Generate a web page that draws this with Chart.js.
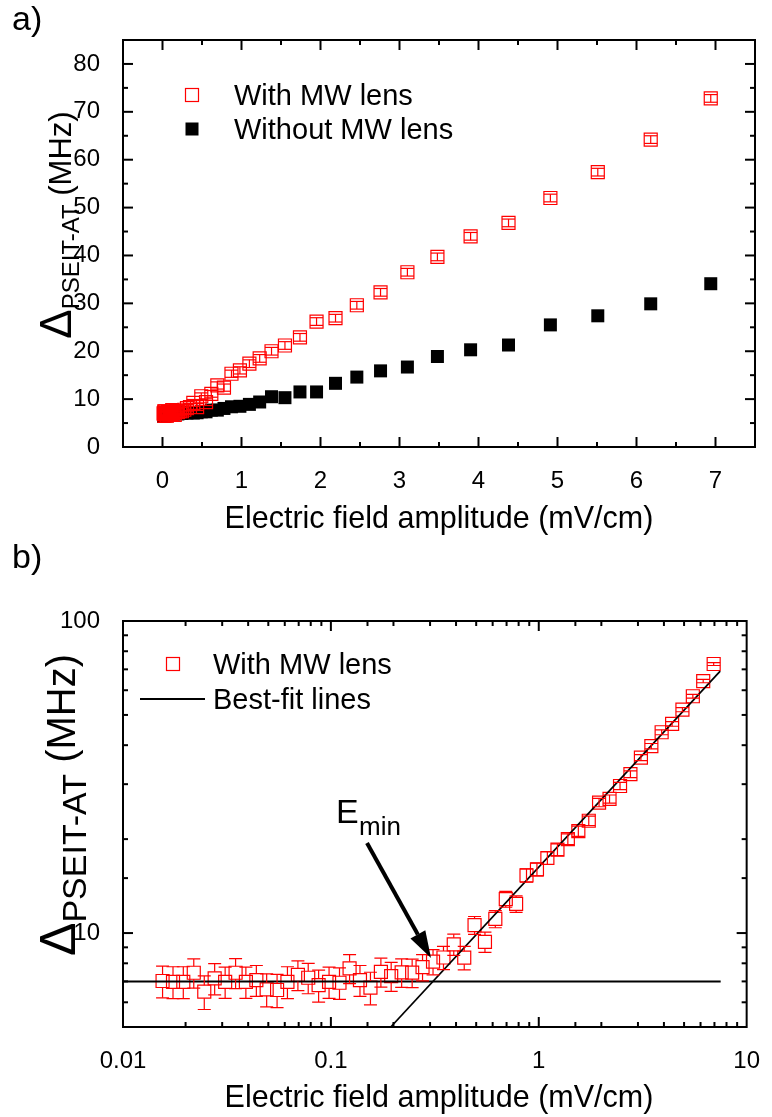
<!DOCTYPE html>
<html>
<head>
<meta charset="utf-8">
<script src="https://cdn.jsdelivr.net/npm/chart.js@4.4.1/dist/chart.umd.min.js"></script>
<style>
  body { margin: 0; background: #fff; }
  .panel { position: absolute; left: 0; }
</style>
</head>
<body>
<div class="panel" style="top:0"><canvas id="chartA" width="772" height="538"></canvas></div>
<div class="panel" style="top:538px"><canvas id="chartB" width="772" height="579"></canvas></div>

<script>
// field amplitude (mV/cm), same for both series
const fieldAmp = [0.0155, 0.0174, 0.0195, 0.0219, 0.0246, 0.0276, 0.031, 0.0348, 0.039, 0.0438,
    0.0491, 0.0551, 0.0618, 0.0694, 0.0778, 0.0873, 0.098, 0.11, 0.123, 0.138,
    0.155, 0.174, 0.195, 0.219, 0.246, 0.276, 0.31, 0.348, 0.39, 0.438,
    0.491, 0.551, 0.618, 0.694, 0.778, 0.873, 0.98, 1.1, 1.23, 1.38,
    1.55, 1.74, 1.95, 2.19, 2.46, 2.76, 3.1, 3.48, 3.9, 4.38,
    4.91, 5.51, 6.18, 6.94];

// splitting (MHz) with MW lens
const withLens = [7.02, 6.98, 6.98, 7.46, 6.49, 7.16, 6.98, 7.46, 6.98, 7.07,
    6.6, 6.57, 6.98, 7.34, 7.19, 6.81, 6.98, 6.93, 7.71, 7.07,
    6.69, 7.51, 7.28, 7.48, 7.47, 7.78, 8.1, 8.35, 9.2, 8.34,
    10.6, 9.37, 11.1, 12.85, 12.4, 15.3, 16.0, 17.4, 18.5, 20.0,
    21.2, 22.9, 26.2, 26.9, 29.6, 32.3, 36.5, 39.7, 44.0, 46.8,
    52.0, 57.4, 64.2, 72.8];

const withLensErr = [0.82, 0.82, 0.82, 0.8, 0.8, 0.82, 0.8, 0.82, 0.8, 0.8,
    0.8, 0.8, 0.82, 0.8, 0.8, 0.8, 0.8, 0.8, 0.82, 0.8,
    0.8, 0.8, 0.78, 0.78, 0.78, 0.75, 0.75, 0.72, 0.72, 0.72,
    0.7, 0.7, 0.7, 0.75, 0.75, 0.75, 0.75, 0.8, 0.8, 0.8,
    0.8, 0.8, 0.8, 0.8, 0.8, 0.8, 0.8, 0.8, 0.8, 0.8,
    0.8, 0.8, 0.8, 0.8];

// splitting (MHz) without MW lens
const withoutLens = [6.4, 6.6, 6.5, 6.7, 6.5, 6.6, 6.8, 6.6, 6.7, 6.9,
    6.7, 6.8, 6.6, 6.9, 6.8, 7.0, 6.9, 6.8, 7.0, 6.9,
    7.1, 7.0, 6.9, 7.1, 7.0, 7.2, 7.1, 7.2, 7.1, 7.15,
    7.35, 7.35, 7.7, 7.7, 8.05, 8.4, 8.5, 8.9, 9.4, 10.5,
    10.3, 11.5, 11.5, 13.3, 14.6, 15.9, 16.7, 18.9, 20.3, 21.3,
    25.5, 27.4, 29.9, 34.1];

// best-fit lines (end points)
const flatFitX = [0.01, 7.5];
const flatFitY = [7.0, 7.0];
const slopeFitX = [0.194, 7.46];
const slopeFitY = [5.0, 69.1];

// tick labels
const xTicksA = [0, 1, 2, 3, 4, 5, 6, 7];
const yTicksA = [0, 10, 20, 30, 40, 50, 60, 70, 80];
const xTicksB = [0.01, 0.1, 1, 10];
const yTicksB = [10, 100];

const FONT = '"Liberation Sans", Arial, Helvetica, sans-serif';
const RED = 'rgb(255,0,0)';
const MARK = 6.5; // half side of the square markers

const pts = (xs, ys) => xs.map((x, i) => ({ x: x, y: ys[i] }));
const isIn = (arr, v) => arr.some(a => Math.abs(a - v) < 1e-9 * Math.max(1, Math.abs(a)));

function line(ctx, x1, y1, x2, y2) {
    ctx.beginPath();
    ctx.moveTo(x1, y1);
    ctx.lineTo(x2, y2);
    ctx.stroke();
}

// frame with inward ticks on all four sides
const framePlugin = {
    id: 'frame',
    afterDraw(chart) {
        const { ctx, chartArea: a, scales } = chart;
        ctx.save();
        ctx.strokeStyle = '#000';
        ctx.lineWidth = 2;
        ctx.strokeRect(a.left, a.top, a.right - a.left, a.bottom - a.top);
        scales.x.ticks.forEach(t => {
            const px = scales.x.getPixelForValue(t.value);
            if (px < a.left + 2 || px > a.right - 2) return;
            const len = t.label !== '' ? 10 : 5;
            line(ctx, px, a.bottom, px, a.bottom - len);
            line(ctx, px, a.top, px, a.top + len);
        });
        scales.y.ticks.forEach(t => {
            const py = scales.y.getPixelForValue(t.value);
            if (py < a.top + 2 || py > a.bottom - 2) return;
            const len = t.label !== '' ? 10 : 5;
            line(ctx, a.left, py, a.left + len, py);
            line(ctx, a.right, py, a.right - len, py);
        });
        ctx.restore();
    }
};

// vertical error bars, drawn from marker edge to cap
const errorBarPlugin = {
    id: 'errbars',
    afterDatasetsDraw(chart) {
        const { ctx, chartArea: a, scales } = chart;
        ctx.save();
        ctx.beginPath();
        ctx.rect(a.left, a.top, a.right - a.left, a.bottom - a.top);
        ctx.clip();
        chart.data.datasets.forEach((ds, i) => {
            if (!ds.errors) return;
            const meta = chart.getDatasetMeta(i);
            ctx.strokeStyle = ds.borderColor;
            ctx.lineWidth = 1.2;
            meta.data.forEach((p, j) => {
                const v = ds.data[j].y, e = ds.errors[j];
                const yT = scales.y.getPixelForValue(v + e);
                const yB = scales.y.getPixelForValue(v - e);
                const w = MARK;
                line(ctx, p.x - w, yT, p.x + w, yT);
                line(ctx, p.x - w, yB, p.x + w, yB);
                if (p.y - yT > MARK) {
                    line(ctx, p.x, yT, p.x, p.y - MARK);
                    line(ctx, p.x, yB, p.x, p.y + MARK);
                } else {
                    line(ctx, p.x, yT, p.x, yB);
                }
            });
        });
        ctx.restore();
    }
};

function drawYTitle(ctx, cx, cy, sizes) {
    const parts = [
        { t: '\u0394', f: sizes[0] + 'px ' + FONT, dy: 0 },
        { t: 'PSEIT-AT', f: sizes[1] + 'px ' + FONT, dy: sizes[1] * 0.33 },
        { t: ' (MHz)', f: sizes[2] + 'px ' + FONT, dy: 0 }
    ];
    ctx.save();
    ctx.translate(cx, cy);
    ctx.rotate(-Math.PI / 2);
    ctx.fillStyle = '#000';
    ctx.textBaseline = 'alphabetic';
    ctx.textAlign = 'left';
    let total = 0;
    parts.forEach(p => { ctx.font = p.f; p.w = ctx.measureText(p.t).width; total += p.w; });
    let x = -total / 2;
    parts.forEach(p => { ctx.font = p.f; ctx.fillText(p.t, x, p.dy); x += p.w; });
    ctx.restore();
}

function drawText(ctx, text, x, y, size, align) {
    ctx.save();
    ctx.font = size + 'px ' + FONT;
    ctx.fillStyle = '#000';
    ctx.textAlign = align || 'left';
    ctx.textBaseline = 'alphabetic';
    ctx.fillText(text, x, y);
    ctx.restore();
}

function square(ctx, x, y, filled, color) {
    ctx.save();
    if (filled) {
        ctx.fillStyle = color;
        ctx.fillRect(x - MARK, y - MARK, 2 * MARK, 2 * MARK);
    } else {
        ctx.strokeStyle = color;
        ctx.lineWidth = 1.2;
        ctx.strokeRect(x - MARK, y - MARK, 2 * MARK, 2 * MARK);
    }
    ctx.restore();
}

const decorA = {
    id: 'decorA',
    afterDraw(chart) {
        const ctx = chart.ctx;
        drawText(ctx, 'a)', 12, 30, 34);
        drawText(ctx, 'Electric field amplitude (mV/cm)', 439, 528, 30.5, 'center');
        drawYTitle(ctx, 71, 225, [44, 24, 31]);
        square(ctx, 192, 95, false, RED);
        drawText(ctx, 'With MW lens', 234, 105, 29);
        square(ctx, 192, 129, true, '#000');
        drawText(ctx, 'Without MW lens', 234, 139, 29);
    }
};

const decorB = {
    id: 'decorB',
    afterDraw(chart) {
        const ctx = chart.ctx;
        drawText(ctx, 'b)', 12, 30, 34);
        drawText(ctx, 'Electric field amplitude (mV/cm)', 439, 569, 30.5, 'center');
        drawYTitle(ctx, 75, 267, [50, 34, 40]);
        square(ctx, 173, 126, false, RED);
        drawText(ctx, 'With MW lens', 213, 136, 29);
        ctx.save();
        ctx.strokeStyle = '#000';
        ctx.lineWidth = 2;
        line(ctx, 140, 161, 205, 161);
        ctx.restore();
        drawText(ctx, 'Best-fit lines', 213, 171, 29);
        // E_min label and arrow
        drawText(ctx, 'E', 336, 285, 34);
        drawText(ctx, 'min', 359, 297, 26);
        const x1 = 367, y1 = 305, x2 = 431, y2 = 420;
        const L = Math.hypot(x2 - x1, y2 - y1), dx = (x2 - x1) / L, dy = (y2 - y1) / L;
        const hl = 27, hw = 8.5;
        const bx = x2 - dx * hl, by = y2 - dy * hl;
        ctx.save();
        ctx.strokeStyle = '#000';
        ctx.fillStyle = '#000';
        ctx.lineWidth = 4;
        line(ctx, x1, y1, bx, by);
        ctx.beginPath();
        ctx.moveTo(x2, y2);
        ctx.lineTo(bx - dy * hw, by + dx * hw);
        ctx.lineTo(bx + dy * hw, by - dx * hw);
        ctx.closePath();
        ctx.fill();
        ctx.restore();
    }
};

const tickFont = { family: FONT, size: 24 };
const radius = MARK * Math.SQRT2;

new Chart(document.getElementById('chartA'), {
    type: 'scatter',
    data: {
        datasets: [{
            label: 'With MW lens',
            data: pts(fieldAmp, withLens),
            errors: withLensErr,
            pointStyle: 'rect',
            pointRadius: radius,
            borderColor: RED,
            backgroundColor: 'rgba(0,0,0,0)',
            borderWidth: 1.2
        }, {
            label: 'Without MW lens',
            data: pts(fieldAmp, withoutLens),
            pointStyle: 'rect',
            pointRadius: radius,
            borderColor: '#000',
            backgroundColor: '#000',
            borderWidth: 0
        }]
    },
    options: {
        responsive: false,
        animation: false,
        layout: { padding: { top: 40, right: 17, left: 0, bottom: 0 } },
        plugins: { legend: { display: false }, tooltip: { enabled: false } },
        scales: {
            x: {
                type: 'linear', min: -0.5, max: 7.5,
                grid: { display: false },
                border: { display: false },
                afterFit: s => { s.height = 91; },
                ticks: {
                    stepSize: 0.5, autoSkip: false, maxRotation: 0, padding: 12,
                    color: '#000', font: tickFont,
                    callback: v => isIn(xTicksA, v) ? String(Math.round(v)) : ''
                }
            },
            y: {
                type: 'linear', min: 0, max: 85,
                grid: { display: false },
                border: { display: false },
                afterFit: s => { s.width = 123; },
                ticks: {
                    stepSize: 5, autoSkip: false, padding: 15,
                    color: '#000', font: tickFont,
                    callback: v => isIn(yTicksA, v) ? String(Math.round(v)) : ''
                }
            }
        }
    },
    plugins: [errorBarPlugin, framePlugin, decorA]
});

new Chart(document.getElementById('chartB'), {
    type: 'scatter',
    data: {
        datasets: [{
            label: 'Best-fit lines',
            data: pts(flatFitX, flatFitY),
            showLine: true,
            pointRadius: 0,
            borderColor: '#000',
            borderWidth: 2
        }, {
            label: 'Best-fit slope',
            data: pts(slopeFitX, slopeFitY),
            showLine: true,
            pointRadius: 0,
            borderColor: '#000',
            borderWidth: 1.7
        }, {
            label: 'With MW lens',
            data: pts(fieldAmp, withLens),
            errors: withLensErr,
            pointStyle: 'rect',
            pointRadius: radius,
            borderColor: RED,
            backgroundColor: 'rgba(0,0,0,0)',
            borderWidth: 1.2
        }]
    },
    options: {
        responsive: false,
        animation: false,
        layout: { padding: { top: 83, right: 16, left: 0, bottom: 0 } },
        plugins: { legend: { display: false }, tooltip: { enabled: false } },
        scales: {
            x: {
                type: 'logarithmic', min: 0.01, max: 10,
                grid: { display: false },
                border: { display: false },
                afterFit: s => { s.height = 90; },
                ticks: {
                    autoSkip: false, maxRotation: 0, padding: 12,
                    color: '#000', font: tickFont,
                    callback: v => isIn(xTicksB, v) ? String(v) : ''
                }
            },
            y: {
                type: 'logarithmic', min: 5, max: 100,
                grid: { display: false },
                border: { display: false },
                afterFit: s => { s.width = 123; },
                ticks: {
                    autoSkip: false, padding: 15,
                    color: '#000', font: tickFont,
                    callback: v => isIn(yTicksB, v) ? String(v) : ''
                }
            }
        }
    },
    plugins: [errorBarPlugin, framePlugin, decorB]
});
</script>
</body>
</html>
